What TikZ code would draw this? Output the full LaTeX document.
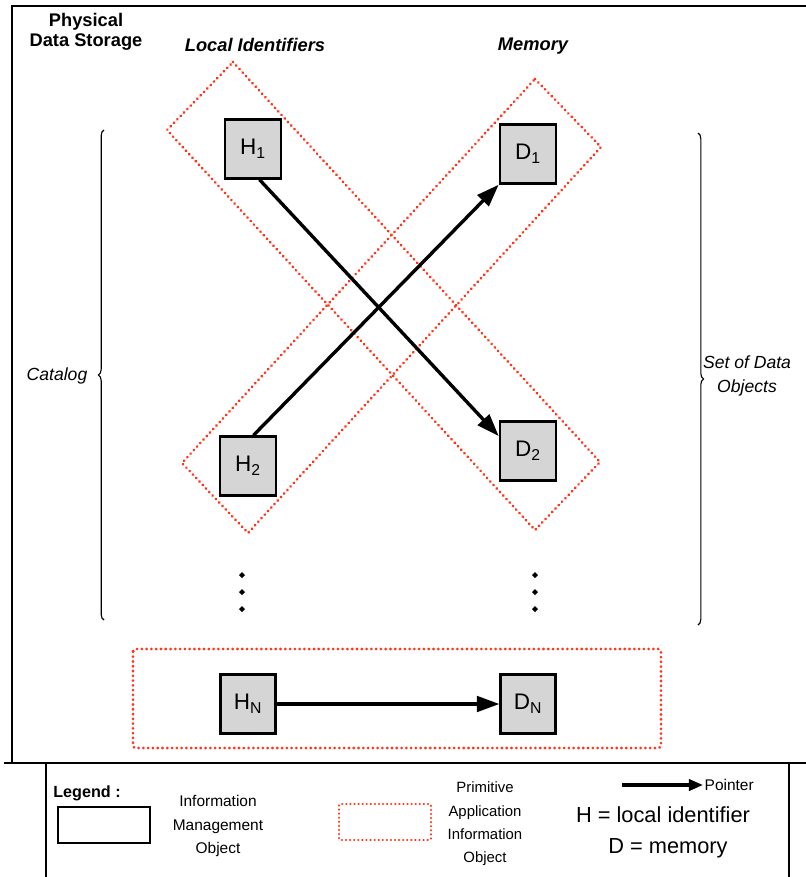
\documentclass[tikz,border=0pt]{standalone}
\usepackage{fontspec}
\setmainfont{Liberation Sans}
\usepackage{xcolor}
\usetikzlibrary{arrows.meta,positioning,calc,decorations.pathreplacing}
\definecolor{appred}{HTML}{FF3418}
\definecolor{boxgray}{HTML}{D5D5D5}
\tikzset{
  idbox/.style={draw=black,fill=boxgray,line width=1.6pt,minimum width=40pt,
    minimum height=42pt,inner sep=0pt,font=\fontsize{16}{18}\selectfont},
  appobj/.style={draw=appred,line width=2.1pt,line cap=round,dash pattern=on 0.1pt off 3.3pt},
  pointer/.style={-{Triangle[length=16pt,width=11pt]},line width=2.4pt},
  headlabel/.style={font=\fontsize{13}{14}\selectfont\bfseries,align=center},
  sidelabel/.style={font=\fontsize{12.5}{17.5}\selectfont\itshape,align=center},
  legendtext/.style={font=\fontsize{11}{16.8}\selectfont,align=center}
}
\begin{document}
\begin{tikzpicture}[x=0.025cm,y=-0.025cm]
  \useasboundingbox (0,0) rectangle (806,877);
  % frames
  \draw[line width=1.5pt] (12,764) -- (12,6) -- (812,6);
  \draw[line width=1.5pt] (4,763) -- (812,763);
  \draw[line width=1.5pt] (46,885) -- (46,763);
  \draw[line width=1.5pt] (789,885) -- (789,763);
  % headings
  \node[headlabel] (storage) at (86,32) {Physical\\Data Storage};
  \node[headlabel,font=\fontsize{13}{14}\selectfont\bfseries\itshape] (localid) at (255,45) {Local Identifiers};
  \node[headlabel,font=\fontsize{13}{14}\selectfont\bfseries\itshape] (memory) at (533,46) {Memory};
  % primitive application information objects
  \draw[appobj] (233,62) -- (600,462) -- (535,530) -- (167,130) -- cycle;
  \draw[appobj] (535,79) -- (601,147) -- (248,533) -- (182,463) -- cycle;
  \draw[appobj,rounded corners=2pt] (133,649) rectangle (661,748);
  % identifiers and data objects
  \node[idbox] (h1) at (253,149) {H\textsubscript{1}};
  \node[idbox] (h2) at (248,466) {H\textsubscript{2}};
  \node[idbox,minimum width=39pt] (hn) at (248,704) {H\textsubscript{N}};
  \node[idbox] (d1) at (528,154) {D\textsubscript{1}};
  \node[idbox] (d2) at (528,451) {D\textsubscript{2}};
  \node[idbox,minimum width=39pt] (dn) at (528,704) {D\textsubscript{N}};
  \draw[pointer] (h1.-78) -- (d2.153);
  \draw[pointer] (h2.80) -- (d1.south west);
  \draw[pointer] (hn) -- (dn);
  % more entries
  \foreach \x in {242,535}
    \foreach \y in {575,592,609}
      \fill (\x,\y-3) -- (\x+3,\y) -- (\x,\y+3) -- (\x-3,\y) -- cycle;
  % braces
  \draw[line width=0.8pt,decorate,decoration={brace,amplitude=4pt}] (104,620) -- (104,130);
  \draw[line width=0.8pt,decorate,decoration={brace,amplitude=4pt}] (698,133) -- (698,625);
  \node[sidelabel] (catalog) at (57,376) {Catalog};
  \node[sidelabel] (dataset) at (747,376) {Set of Data\\Objects};
  % legend
  \node[headlabel,font=\fontsize{11.5}{13}\selectfont\bfseries] (legendtitle) at (87,793) {Legend :};
  \draw[line width=1.4pt] (58,807) rectangle (150,843);
  \node[legendtext] (imolabel) at (218,826) {Information\\Management\\Object};
  \draw[appobj,line width=1.7pt,dash pattern=on 0.1pt off 2.8pt,rounded corners=1pt] (339,804) rectangle (431,840);
  \node[legendtext,font=\fontsize{10.6}{16.6}\selectfont] (paiolabel) at (485,824) {Primitive\\Application\\Information\\Object};
  \coordinate (ptrstart) at (622,785);
  \node[legendtext,anchor=west,inner sep=1pt] (ptrlabel) at (703,785) {Pointer};
  \draw[-{Triangle[length=10pt,width=8pt]},line width=2.2pt] (ptrstart) -- (ptrlabel.west);
  \node[font=\fontsize{15.5}{18}\selectfont] (hkey) at (663,815) {H = local identifier};
  \node[font=\fontsize{15.5}{18}\selectfont] (dkey) at (668,848) {D = memory};
\end{tikzpicture}
\end{document}
